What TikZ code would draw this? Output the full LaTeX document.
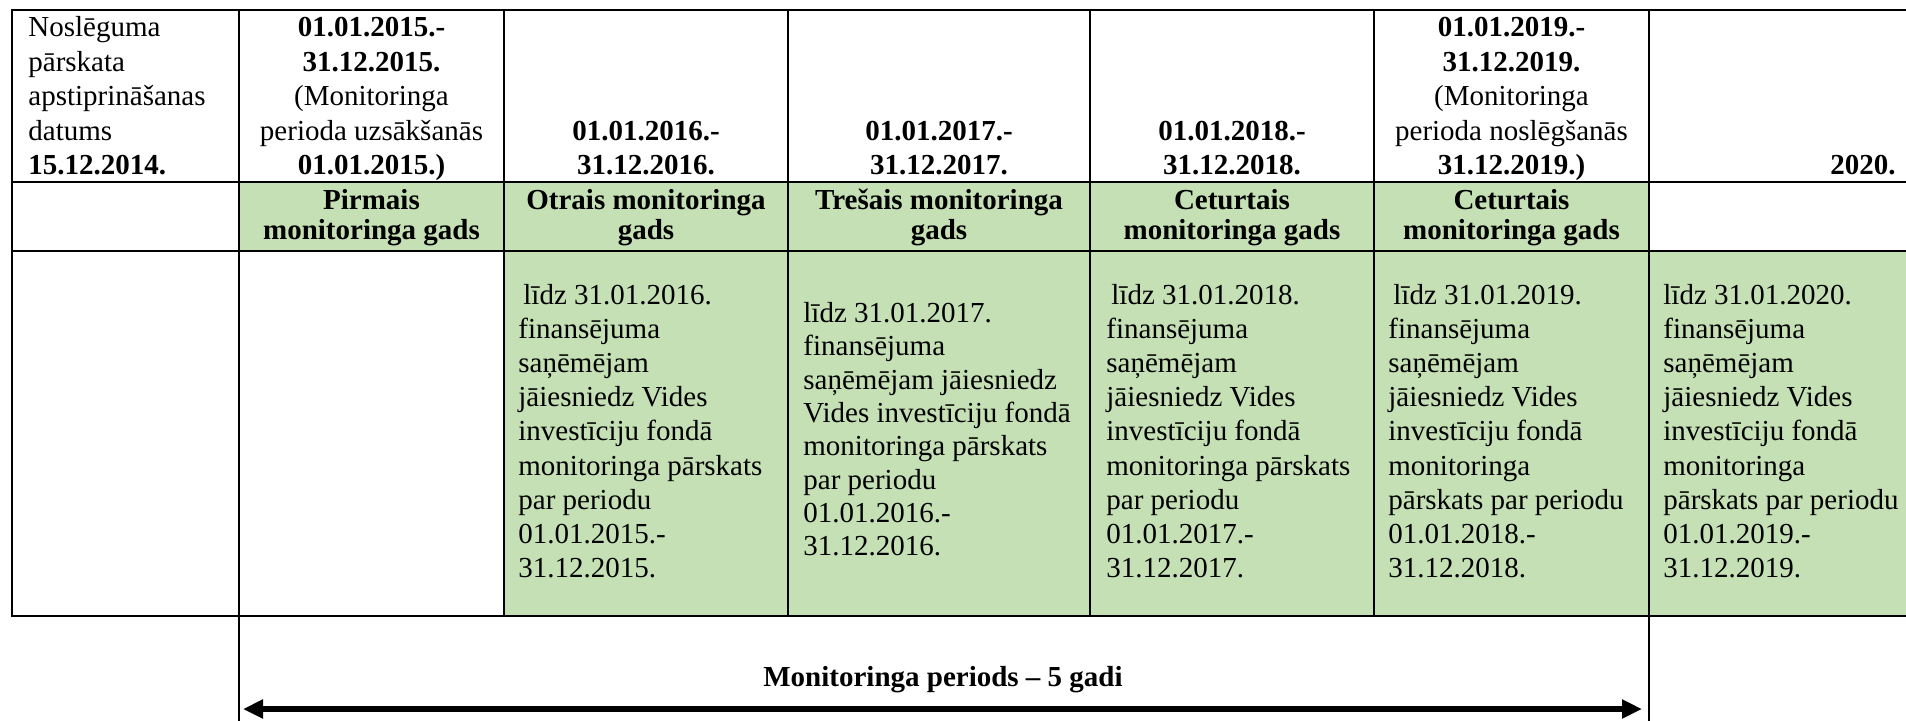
\documentclass[tikz,border=0pt]{standalone}
\usepackage{fontspec}
\setmainfont{Liberation Serif}
\usetikzlibrary{arrows.meta}
\definecolor{lgreen}{HTML}{C5E0B4}
\begin{document}
\begin{tikzpicture}[x=0.5pt,y=-0.5pt,
  gridline/.style={line width=1.25pt, line cap=rect},
  hdr/.style={inner sep=0pt, align=center, anchor=south, text depth=0pt,
    font=\fontsize{14.5pt}{17.25pt}\selectfont},
  hdrb/.style={hdr, font=\fontsize{14.5pt}{17.25pt}\selectfont\bfseries},
  yearb/.style={inner sep=0pt, align=center, anchor=south, text depth=0pt,
    font=\fontsize{14.5pt}{15pt}\selectfont\bfseries},
  body/.style={inner sep=0pt, align=left, anchor=south west, text depth=0pt,
    font=\fontsize{14.5pt}{17.1pt}\selectfont},
  bodyb/.style={body, font=\fontsize{14.5pt}{16.65pt}\selectfont},
  period/.style={inner sep=0pt, font=\fontsize{14.5pt}{17pt}\selectfont\bfseries},
  span/.style={line width=3pt, {Triangle[length=10pt,width=9pt]}-{Triangle[length=10pt,width=9pt]}}
]
\useasboundingbox (0,0) rectangle (1906,720);
\clip (0,0) rectangle (1906,720);
% fills
\fill[lgreen] (239,182) rectangle (1649,251);
\fill[lgreen] (504,251) rectangle (1906,616);
% grid
\foreach \yy in {10,182,251,616} {\draw[gridline] (12,\yy) -- (1910,\yy);}
\foreach \xx in {12,504,788,1090,1374} {\draw[gridline] (\xx,10) -- (\xx,616);}
\draw[gridline] (239,10) -- (239,725);
\draw[gridline] (1649,10) -- (1649,725);
% row 1
\node[hdr, anchor=south west, align=left] (h1) at (28,175) {Noslēguma\\pārskata\\apstiprināšanas\\datums\\\textbf{15.12.2014.}};
\node[hdr] (h2) at (371.5,175) {\textbf{01.01.2015.-}\\\textbf{31.12.2015.}\\(Monitoringa\\perioda uzsākšanās\\\textbf{01.01.2015.)}};
\node[hdrb] (h3) at (646,175) {01.01.2016.-\\31.12.2016.};
\node[hdrb] (h4) at (939,175) {01.01.2017.-\\31.12.2017.};
\node[hdrb] (h5) at (1232,175) {01.01.2018.-\\31.12.2018.};
\node[hdr] (h6) at (1511.5,175) {\textbf{01.01.2019.-}\\\textbf{31.12.2019.}\\(Monitoringa\\perioda noslēgšanās\\\textbf{31.12.2019.)}};
\node[hdrb] (h7) at (1863,175) {2020.};
% row 2
\node[yearb] (y2) at (371.5,240) {Pirmais\\monitoringa gads};
\node[yearb] (y3) at (646,240) {Otrais monitoringa\\gads};
\node[yearb] (y4) at (939,240) {Trešais monitoringa\\gads};
\node[yearb] (y5) at (1232,240) {Ceturtais\\monitoringa gads};
\node[yearb] (y6) at (1511.5,240) {Ceturtais\\monitoringa gads};
% row 3
\node[body] (b3) at (518,578) {\hspace{2.5pt}līdz 31.01.2016.\\finansējuma\\saņēmējam\\jāiesniedz Vides\\investīciju fondā\\monitoringa pārskats\\par periodu\\01.01.2015.-\\31.12.2015.};
\node[bodyb] (b4) at (803,556) {līdz 31.01.2017.\\finansējuma\\saņēmējam jāiesniedz\\Vides investīciju fondā\\monitoringa pārskats\\par periodu\\01.01.2016.-\\31.12.2016.};
\node[body] (b5) at (1106,578) {\hspace{2.5pt}līdz 31.01.2018.\\finansējuma\\saņēmējam\\jāiesniedz Vides\\investīciju fondā\\monitoringa pārskats\\par periodu\\01.01.2017.-\\31.12.2017.};
\node[body] (b6) at (1388,578) {\hspace{2.5pt}līdz 31.01.2019.\\finansējuma\\saņēmējam\\jāiesniedz Vides\\investīciju fondā\\monitoringa\\pārskats par periodu\\01.01.2018.-\\31.12.2018.};
\node[body] (b7) at (1663,578) {līdz 31.01.2020.\\finansējuma\\saņēmējam\\jāiesniedz Vides\\investīciju fondā\\monitoringa\\pārskats par periodu\\01.01.2019.-\\31.12.2019.};
% period arrow
\node[period] (lab) at (943,680) {Monitoringa periods – 5 gadi};
\coordinate (aL) at (243,709);
\coordinate (aR) at (1642,709);
\draw[span] (aL) -- (aR);
\end{tikzpicture}
\end{document}
